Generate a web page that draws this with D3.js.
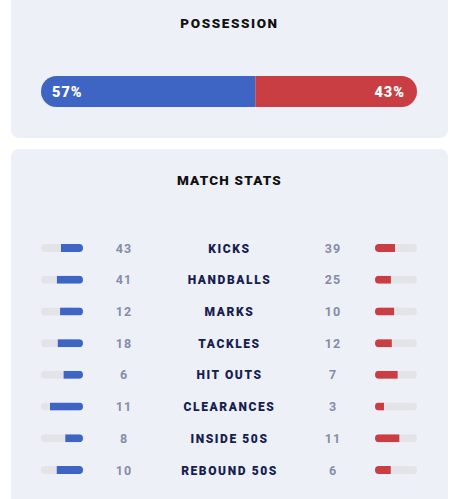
<!DOCTYPE html>
<html>
<head>
<meta charset="utf-8">
<script src="https://cdn.jsdelivr.net/npm/d3@7"></script>
<style>
  body { margin: 0; background: #fff; }
  text { font-family: Roboto, "Open Sans", sans-serif; }
</style>
</head>
<body>
<div id="chart"></div>
<script>
const W = 459, H = 499

// possession
const possession = [57, 43]
const possLabels = ['57%', '43%']

// match stats
const stats = ['KICKS', 'HANDBALLS', 'MARKS', 'TACKLES', 'HIT OUTS', 'CLEARANCES', 'INSIDE 50S', 'REBOUND 50S']
const home = [43, 41, 12, 18, 6, 11, 8, 10]
const away = [39, 25, 10, 12, 7, 3, 11, 6]

const BLUE = '#3e64c4', RED = '#c83e42', CARD = '#edf0f7', TRACK = '#e3e4e8'

const svg = d3.select('#chart').append('svg')
    .attr('width', W)
    .attr('height', H)

// cards
svg.append('rect').attr('x', 11).attr('y', -10).attr('width', 437).attr('height', 148)
    .attr('rx', 8).attr('fill', CARD)
svg.append('rect').attr('x', 11).attr('y', 149).attr('width', 437).attr('height', 370)
    .attr('rx', 8).attr('fill', CARD)

svg.append('text').attr('x', 229.5).attr('y', 28)
    .attr('text-anchor', 'middle').attr('font-size', 13.5).attr('font-weight', 900)
    .attr('letter-spacing', 1.6).attr('fill', '#111').text('POSSESSION')

// possession bar
const px = d3.scaleLinear().domain([0, d3.sum(possession)]).range([41, 417])
const barY = 76, barH = 31
svg.append('clipPath').attr('id', 'pclip')
  .append('rect').attr('x', px(0)).attr('y', barY).attr('width', px.range()[1] - px(0))
    .attr('height', barH).attr('rx', barH / 2)
const pg = svg.append('g').attr('clip-path', 'url(#pclip)')
pg.selectAll('rect').data(possession).enter().append('rect')
    .attr('x', (d, i) => i === 0 ? px(0) : px(possession[0]))
    .attr('y', barY).attr('height', barH)
    .attr('width', d => px(d) - px(0))
    .attr('fill', (d, i) => i === 0 ? BLUE : RED)
svg.selectAll('.plab').data(possLabels).enter().append('text')
    .attr('x', (d, i) => i === 0 ? 52 : 405)
    .attr('y', barY + barH / 2 + 5.5)
    .attr('text-anchor', (d, i) => i === 0 ? 'start' : 'end')
    .attr('font-size', 14.5).attr('font-weight', 900).attr('letter-spacing', 1)
    .attr('fill', '#fff').text(d => d)

svg.append('text').attr('x', 229.5).attr('y', 185)
    .attr('text-anchor', 'middle').attr('font-size', 13.5).attr('font-weight', 900)
    .attr('letter-spacing', 1.2).attr('fill', '#111').text('MATCH STATS')

// rows
const y = d3.scalePoint().domain(stats).range([248, 470])
const frac = d3.scaleLinear().domain([0, 1]).range([0, 42])
const trackH = 8

const rows = svg.selectAll('.row').data(stats).enter().append('g')
    .attr('transform', d => `translate(0,${y(d)})`)

rows.each(function (d, i) {
  const g = d3.select(this)
  const tot = home[i] + away[i]
  // left track + fill (right aligned)
  const lid = 'lc' + i, rid = 'rc' + i
  g.append('clipPath').attr('id', lid).append('rect')
      .attr('x', 41).attr('y', -trackH / 2).attr('width', 42).attr('height', trackH).attr('rx', trackH / 2)
  g.append('clipPath').attr('id', rid).append('rect')
      .attr('x', 375).attr('y', -trackH / 2).attr('width', 42).attr('height', trackH).attr('rx', trackH / 2)
  const lw = frac(home[i] / tot), rw = frac(away[i] / tot)
  const lg = g.append('g').attr('clip-path', `url(#${lid})`)
  lg.append('rect').attr('x', 41).attr('y', -trackH / 2).attr('width', 42).attr('height', trackH).attr('fill', TRACK)
  lg.append('rect').attr('x', 83 - lw).attr('y', -trackH / 2).attr('width', lw).attr('height', trackH).attr('fill', BLUE)
  const rg = g.append('g').attr('clip-path', `url(#${rid})`)
  rg.append('rect').attr('x', 375).attr('y', -trackH / 2).attr('width', 42).attr('height', trackH).attr('fill', TRACK)
  rg.append('rect').attr('x', 375).attr('y', -trackH / 2).attr('width', rw).attr('height', trackH).attr('fill', RED)

  g.append('text').attr('x', 124).attr('y', 4.5).attr('text-anchor', 'middle')
      .attr('font-size', 12.5).attr('font-weight', 700).attr('letter-spacing', 1)
      .attr('fill', '#858da5').text(home[i])
  g.append('text').attr('x', 333).attr('y', 4.5).attr('text-anchor', 'middle')
      .attr('font-size', 12.5).attr('font-weight', 700).attr('letter-spacing', 1)
      .attr('fill', '#858da5').text(away[i])
  g.append('text').attr('x', 229.5).attr('y', 4.5).attr('text-anchor', 'middle')
      .attr('font-size', 12).attr('font-weight', 900).attr('letter-spacing', 1.6)
      .attr('fill', '#16204f').text(d)
})
</script>
</body>
</html>
